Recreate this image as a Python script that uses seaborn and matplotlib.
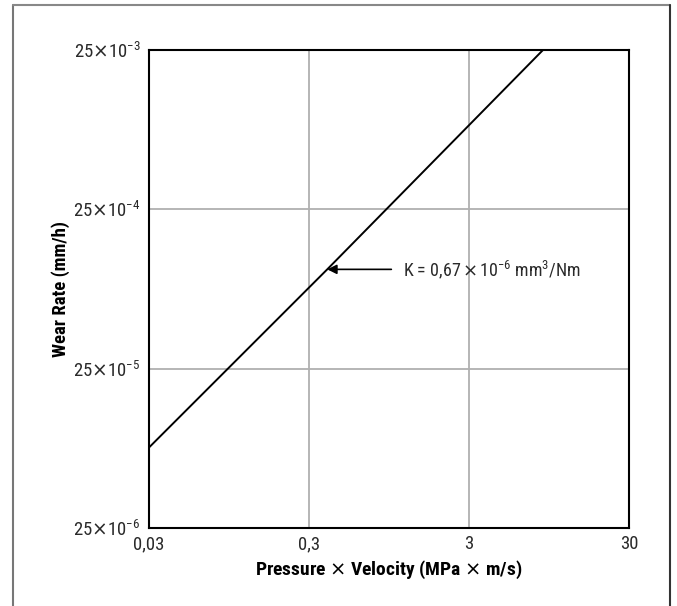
import matplotlib
matplotlib.use("Agg")
import matplotlib.pyplot as plt
import matplotlib.ticker as mticker
from matplotlib import font_manager
from matplotlib.lines import Line2D
import seaborn as sns
import pandas as pd

# data
pv = [0.03, 0.39, 8.7]
wear = [8.0e-5, 1.05e-3, 2.5e-2]
x_ticks = [0.03, 0.3, 3, 30]
x_labels = ["0,03", "0,3", "3", "30"]
y_ticks = [25e-6, 25e-5, 25e-4, 25e-3]
y_labels = [r"$\mathregular{25}\mathsf{\times}\mathregular{10^{-6}}$", r"$\mathregular{25}\mathsf{\times}\mathregular{10^{-5}}$",
            r"$\mathregular{25}\mathsf{\times}\mathregular{10^{-4}}$", r"$\mathregular{25}\mathsf{\times}\mathregular{10^{-3}}$"]
annot_text = r"K = 0,67$\,\mathsf{\times}\,\mathregular{10^{-6}}$ mm$\mathregular{^3}$/Nm"
annot_xy = (0.39, 1.05e-3)
x_title = r"Pressure $\mathsf{\times}$ Velocity (MPa $\mathsf{\times}$ m/s)"
y_title = "Wear Rate (mm/h)"

sns.set_style("white")
names = {f.name for f in font_manager.fontManager.ttflist}
chosen = "DejaVu Sans"
for cand in ["Liberation Sans Narrow", "Roboto Condensed", "Open Sans Condensed", "Roboto", "Lato"]:
    if cand in names:
        chosen = cand
        break
fam = [chosen, "DejaVu Sans"]
plt.rcParams["font.family"] = fam
plt.rcParams["mathtext.fontset"] = "custom"
plt.rcParams["mathtext.rm"] = chosen
plt.rcParams["mathtext.it"] = chosen + ":italic"
plt.rcParams["mathtext.bf"] = chosen + ":bold"
plt.rcParams["mathtext.sf"] = "DejaVu Sans"

fig = plt.figure(figsize=(6.77, 6.06), dpi=100)
ax = fig.add_axes([149/677, 1-528/606, 480/677, 478/606])

df = pd.DataFrame({"pv": pv, "wear": wear})
sns.lineplot(data=df, x="pv", y="wear", ax=ax, color="black", linewidth=1.4)

ax.set_xscale("log")
ax.set_yscale("log")
ax.set_xlim(0.03, 30)
ax.set_ylim(25e-6, 25e-3)
ax.set_xticks(x_ticks)
ax.set_xticklabels(x_labels)
ax.set_yticks(y_ticks)
ax.set_yticklabels(y_labels)
ax.xaxis.set_minor_locator(mticker.NullLocator())
ax.yaxis.set_minor_locator(mticker.NullLocator())
ax.tick_params(axis="both", length=0, labelsize=13.5, colors="#2a2a2a", pad=6)
ax.tick_params(axis="x", pad=5)
ax.grid(True, color="#b0b0b0", linewidth=1.3)
for s in ax.spines.values():
    s.set_color("black")
    s.set_linewidth(1.5)

ax.set_xlabel(x_title, fontsize=14, fontweight="bold", labelpad=4, color="black")
ax.set_ylabel(y_title, fontsize=13.5, fontweight="bold", color="black")
ax.yaxis.set_label_coords(-(149 - 70) / 480, 0.5)

ax.annotate(annot_text, xy=annot_xy, xytext=(1.16, annot_xy[1]),
            fontsize=13, va="center", ha="left", color="#2a2a2a",
            arrowprops=dict(arrowstyle="-|>", color="black", lw=1.2,
                            shrinkA=6, shrinkB=0, mutation_scale=14))

# outer frame
fig.add_artist(Line2D([13/677, 13/677], [0, 1-5/606], transform=fig.transFigure, color="#777777", lw=1.5))
fig.add_artist(Line2D([13/677, 670/677], [1-5/606, 1-5/606], transform=fig.transFigure, color="#888888", lw=1.5))
fig.add_artist(Line2D([670/677, 670/677], [0, 1-5/606], transform=fig.transFigure, color="#333333", lw=1.5))

fig.savefig("out.png", dpi=100)
